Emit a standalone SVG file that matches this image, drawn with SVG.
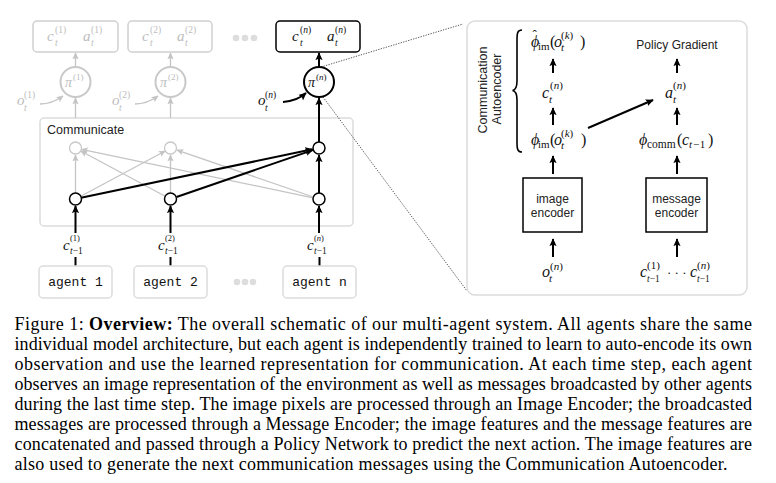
<svg xmlns="http://www.w3.org/2000/svg" width="776" height="483" viewBox="0 0 776 483">
<defs>
<style>
.m{font-family:"Liberation Serif","DejaVu Serif",serif;font-style:italic;font-size:15px}
.s{font-family:"Liberation Serif","DejaVu Serif",serif;font-size:9.5px}
.si{font-family:"Liberation Serif","DejaVu Serif",serif;font-style:italic;font-size:9.5px}
.u{font-family:"Liberation Serif","DejaVu Serif",serif;font-size:15px}
.g{fill:#bdbdbd}
.k{fill:#111}
.sans{font-family:"Liberation Sans",Arial,sans-serif;font-size:12px;fill:#222}
.mono{font-family:"Liberation Mono","DejaVu Sans Mono",monospace;font-size:13px;fill:#111}
.cap{font-family:"Liberation Serif","Times New Roman",serif;font-size:18px;fill:#000}
.gl{stroke:#c4c4c4;stroke-width:1.3;fill:none}
.bl{stroke:#000;stroke-width:2;fill:none}
.dot{stroke:#444;stroke-width:0.9;stroke-dasharray:1.3 1.3;fill:none}
.gbox{fill:#fff;stroke:#d0d0d0;stroke-width:1.5}
.lbox{fill:#fff;stroke:#dcdcdc;stroke-width:1.5}
.R{font-size:16px}
.r1{font-size:11px}
</style>
<marker id="ab" viewBox="0 0 10 10" refX="9" refY="5" markerWidth="8" markerHeight="8" markerUnits="userSpaceOnUse" orient="auto"><path d="M0,0.5 L10,5 L0,9.5 L2,5 z" fill="#000"/></marker>
<marker id="ag" viewBox="0 0 10 10" refX="9" refY="5" markerWidth="7" markerHeight="7" markerUnits="userSpaceOnUse" orient="auto"><path d="M0,0.5 L10,5 L0,9.5 L2,5 z" fill="#c4c4c4"/></marker>
</defs>
<rect width="776" height="483" fill="#fff"/>

<g id="communicate">
<rect x="40" y="118" width="313" height="108" rx="4" class="lbox"/>
<text x="47" y="134" class="sans" style="font-size:12.5px">Communicate</text>
</g>

<g id="connectors">
<line x1="75.5" y1="67" x2="75.5" y2="53" class="gl" marker-end="url(#ag)"/>
<line x1="170.5" y1="67" x2="170.5" y2="53" class="gl" marker-end="url(#ag)"/>
<line x1="75.5" y1="118" x2="75.5" y2="98" class="gl" marker-end="url(#ag)"/>
<line x1="170.5" y1="118" x2="170.5" y2="98" class="gl" marker-end="url(#ag)"/>
<path d="M40,104 Q52,104 63,96" class="gl" marker-end="url(#ag)"/>
<path d="M135,104 Q147,104 158,96" class="gl" marker-end="url(#ag)"/>
<line x1="75.5" y1="193" x2="75.5" y2="155" class="gl" marker-end="url(#ag)"/>
<line x1="170.5" y1="193" x2="170.5" y2="155" class="gl" marker-end="url(#ag)"/>
<line x1="80.8" y1="196.2" x2="165.2" y2="151" class="gl" marker-end="url(#ag)"/>
<line x1="165.2" y1="196.2" x2="80.8" y2="151" class="gl" marker-end="url(#ag)"/>
<line x1="313.1" y1="197.8" x2="81.5" y2="149.3" class="gl" marker-end="url(#ag)"/>
<line x1="313.3" y1="197" x2="177" y2="150.1" class="gl" marker-end="url(#ag)"/>
<line x1="81" y1="197.8" x2="312.5" y2="149.3" class="bl" marker-end="url(#ab)"/>
<line x1="176.5" y1="197" x2="312.7" y2="150.1" class="bl" marker-end="url(#ab)"/>
<line x1="319" y1="193" x2="319" y2="155" class="bl" marker-end="url(#ab)"/>
<line x1="319" y1="142" x2="319" y2="98" class="bl" marker-end="url(#ab)"/>
<line x1="319" y1="67" x2="319" y2="53" class="bl" marker-end="url(#ab)"/>
<path d="M283,102 Q297,101 306,93" class="bl" marker-end="url(#ab)"/>
<line x1="75.5" y1="266" x2="75.5" y2="257" class="bl"/>
<line x1="170.5" y1="266" x2="170.5" y2="257" class="bl"/>
<line x1="319.5" y1="266" x2="319.5" y2="257" class="bl"/>
<line x1="75.5" y1="233" x2="75.5" y2="206" class="bl" marker-end="url(#ab)"/>
<line x1="170.5" y1="233" x2="170.5" y2="206" class="bl" marker-end="url(#ab)"/>
<line x1="319" y1="233" x2="319" y2="206" class="bl" marker-end="url(#ab)"/>
<line x1="321" y1="67" x2="463" y2="24" class="dot"/>
<line x1="323" y1="97" x2="467" y2="291" class="dot"/>
<line x1="553" y1="73" x2="553" y2="59" class="bl" marker-end="url(#ab)"/>
<line x1="553" y1="125" x2="553" y2="108" class="bl" marker-end="url(#ab)"/>
<line x1="553" y1="174" x2="553" y2="156" class="bl" marker-end="url(#ab)"/>
<line x1="553" y1="257" x2="553" y2="239" class="bl" marker-end="url(#ab)"/>
<line x1="677" y1="73" x2="677" y2="59" class="bl" marker-end="url(#ab)"/>
<line x1="677" y1="125" x2="677" y2="108" class="bl" marker-end="url(#ab)"/>
<line x1="677" y1="174" x2="677" y2="156" class="bl" marker-end="url(#ab)"/>
<line x1="677" y1="257" x2="677" y2="239" class="bl" marker-end="url(#ab)"/>
<line x1="588" y1="128" x2="653" y2="100" class="bl" marker-end="url(#ab)"/>
</g>

<g id="comm-nodes">
<circle cx="75.5" cy="148" r="6" fill="#fff" stroke="#c8c8c8" stroke-width="1.3"/>
<circle cx="170.5" cy="148" r="6" fill="#fff" stroke="#c8c8c8" stroke-width="1.3"/>
<circle cx="319" cy="148" r="6" fill="#fff" stroke="#000" stroke-width="1.5"/>
<circle cx="75.5" cy="199" r="6" fill="#fff" stroke="#000" stroke-width="1.5"/>
<circle cx="170.5" cy="199" r="6" fill="#fff" stroke="#000" stroke-width="1.5"/>
<circle cx="319" cy="199" r="6" fill="#fff" stroke="#000" stroke-width="1.5"/>
</g>

<g id="out1">
<rect x="33" y="21" width="85" height="31" rx="4" class="gbox"/>
<text x="47" y="41" class="m g">c</text><text x="55" y="33" class="s g">(1)</text><text x="55" y="46" class="si g">t</text>
<text x="83" y="41" class="m g">a</text><text x="91" y="33" class="s g">(1)</text><text x="91" y="46" class="si g">t</text>
</g>
<g id="out2">
<rect x="128" y="21" width="84" height="31" rx="4" class="gbox"/>
<text x="142" y="41" class="m g">c</text><text x="150" y="33" class="s g">(2)</text><text x="150" y="46" class="si g">t</text>
<text x="177" y="41" class="m g">a</text><text x="185" y="33" class="s g">(2)</text><text x="185" y="46" class="si g">t</text>
</g>
<g id="out-dots" fill="#ddd">
<circle cx="236" cy="38" r="3.3"/><circle cx="245" cy="38" r="3.3"/><circle cx="254" cy="38" r="3.3"/>
</g>
<g id="outn">
<rect x="276" y="21" width="84" height="31" rx="4" fill="#fff" stroke="#000" stroke-width="1.5"/>
<text x="292" y="41" class="m k">c</text><text x="300" y="33" class="s k">(<tspan font-style="italic">n</tspan>)</text><text x="300" y="46" class="si k">t</text>
<text x="327" y="41" class="m k">a</text><text x="335" y="33" class="s k">(<tspan font-style="italic">n</tspan>)</text><text x="335" y="46" class="si k">t</text>
</g>

<g id="pi1">
<circle cx="75.5" cy="82" r="15" fill="#fff" stroke="#c8c8c8" stroke-width="2"/>
<text x="65" y="87" class="m g" style="font-size:14px">π</text><text x="73" y="80" class="s g" style="font-size:9px">(1)</text>
</g>
<g id="pi2">
<circle cx="170.5" cy="82" r="15" fill="#fff" stroke="#c8c8c8" stroke-width="2"/>
<text x="160" y="87" class="m g" style="font-size:14px">π</text><text x="168" y="80" class="s g" style="font-size:9px">(2)</text>
</g>
<g id="pin">
<circle cx="319" cy="82" r="15" fill="#fff" stroke="#000" stroke-width="2"/>
<text x="308" y="87" class="m k" style="font-size:14px">π</text><text x="316" y="80" class="s k" style="font-size:9px">(<tspan font-style="italic">n</tspan>)</text>
</g>

<g id="o1"><text x="17" y="105" class="m g">o</text><text x="24" y="98" class="s g">(1)</text><text x="24" y="111" class="si g">t</text></g>
<g id="o2"><text x="112" y="105" class="m g">o</text><text x="119" y="98" class="s g">(2)</text><text x="119" y="111" class="si g">t</text></g>
<g id="on"><text x="258" y="105" class="m k">o</text><text x="265" y="98" class="s k">(<tspan font-style="italic">n</tspan>)</text><text x="265" y="111" class="si k">t</text></g>

<g id="c1"><text x="63" y="250" class="m k">c</text><text x="70" y="241" class="s k" style="font-size:8.5px">(1)</text><text x="70" y="254" class="si k">t<tspan font-style="normal">−1</tspan></text></g>
<g id="c2"><text x="158" y="250" class="m k">c</text><text x="165" y="241" class="s k" style="font-size:8.5px">(2)</text><text x="165" y="254" class="si k">t<tspan font-style="normal">−1</tspan></text></g>
<g id="cn"><text x="307" y="250" class="m k">c</text><text x="314" y="241" class="s k" style="font-size:8.5px">(<tspan font-style="italic">n</tspan>)</text><text x="314" y="254" class="si k">t<tspan font-style="normal">−1</tspan></text></g>

<g id="agent1"><rect x="39" y="266" width="73" height="32" rx="4" class="lbox"/><text x="75.5" y="286" class="mono" text-anchor="middle">agent 1</text></g>
<g id="agent2"><rect x="134" y="266" width="73" height="32" rx="4" class="lbox"/><text x="170.5" y="286" class="mono" text-anchor="middle">agent 2</text></g>
<g id="agent-dots" fill="#ddd"><circle cx="237" cy="282" r="3.3"/><circle cx="245" cy="282" r="3.3"/><circle cx="253" cy="282" r="3.3"/></g>
<g id="agentn"><rect x="283" y="266" width="73" height="32" rx="4" class="lbox"/><text x="319.5" y="286" class="mono" text-anchor="middle">agent n</text></g>

<g id="panel">
<rect x="467" y="21" width="280" height="274" rx="8" fill="none" stroke="#dcdcdc" stroke-width="1.5"/>
<text transform="translate(487,90) rotate(-90)" class="sans" text-anchor="middle" style="font-size:12.5px">Communication</text>
<text transform="translate(501,89) rotate(-90)" class="sans" text-anchor="middle" style="font-size:12.5px">Autoencoder</text>
<path d="M522,30 C517.5,30 517,33 517,40 L517,81 C517,87 516,90 512.5,90.5 C516,91 517,94 517,100 L517,142 C517,149 517.5,152 522,152" fill="none" stroke="#000" stroke-width="1.6"/>
</g>
<g id="phihat">
<text x="531" y="47" class="m k R">ϕ</text>
<text x="532.5" y="39" class="u k" style="font-size:13px">ˆ</text>
<text x="538" y="50" class="s k r1">im</text>
<text x="550" y="47" class="u k R">(</text><text x="554" y="47" class="m k R">o</text>
<text x="561" y="39" class="s k r1">(<tspan font-style="italic">k</tspan>)</text><text x="561" y="51" class="si k r1">t</text>
<text x="580" y="47" class="u k R">)</text>
</g>
<g id="ct"><text x="542" y="98" class="m k R">c</text><text x="550" y="89" class="s k r1">(<tspan font-style="italic">n</tspan>)</text><text x="549" y="103" class="si k r1">t</text></g>
<g id="phiim">
<text x="531" y="145" class="m k R">ϕ</text>
<text x="538" y="148" class="s k r1">im</text>
<text x="550" y="145" class="u k R">(</text><text x="554" y="145" class="m k R">o</text>
<text x="561" y="137" class="s k r1">(<tspan font-style="italic">k</tspan>)</text><text x="561" y="149" class="si k r1">t</text>
<text x="581" y="145" class="u k R">)</text>
</g>
<g id="policy"><text x="677" y="49" class="sans" text-anchor="middle">Policy Gradient</text></g>
<g id="at"><text x="665" y="98" class="m k R">a</text><text x="673" y="89" class="s k r1">(<tspan font-style="italic">n</tspan>)</text><text x="673" y="103" class="si k r1">t</text></g>
<g id="phicomm">
<text x="639" y="145" class="m k R">ϕ</text>
<text x="647" y="148" class="s k" style="font-size:11.5px">comm</text>
<text x="677" y="145" class="u k R">(</text><text x="682" y="145" class="m k R">c</text>
<text x="689" y="148" class="si k r1">t<tspan font-style="normal" dx="1">−</tspan><tspan font-style="normal" dx="0.5">1</tspan></text>
<text x="708" y="145" class="u k R">)</text>
</g>
<g id="image-encoder">
<rect x="523" y="178" width="59" height="54" fill="#fff" stroke="#000" stroke-width="1.5"/>
<text x="552.5" y="203" class="sans" text-anchor="middle">image</text>
<text x="552.5" y="217" class="sans" text-anchor="middle">encoder</text>
</g>
<g id="message-encoder">
<rect x="646" y="178" width="61" height="54" fill="#fff" stroke="#000" stroke-width="1.5"/>
<text x="676.5" y="203" class="sans" text-anchor="middle">message</text>
<text x="676.5" y="217" class="sans" text-anchor="middle">encoder</text>
</g>
<g id="obs-in"><text x="542" y="277" class="m k R">o</text><text x="550" y="270" class="s k r1">(<tspan font-style="italic">n</tspan>)</text><text x="549" y="282" class="si k r1">t</text></g>
<g id="msg-in">
<text x="640" y="277" class="m k R">c</text><text x="647" y="269" class="s k r1">(1)</text><text x="647" y="282" class="si k">t<tspan font-style="normal">−1</tspan></text>
<text x="667" y="277" class="u k" style="font-size:13px">· · ·</text>
<text x="690" y="277" class="m k R">c</text><text x="697" y="269" class="s k r1">(<tspan font-style="italic">n</tspan>)</text><text x="697" y="282" class="si k">t<tspan font-style="normal">−1</tspan></text>
</g>

<g id="caption" class="cap">
<text x="14.5" y="330" textLength="737.5" lengthAdjust="spacing">Figure 1: <tspan font-weight="bold">Overview:</tspan> The overall schematic of our multi-agent system. All agents share the same</text>
<text x="14.5" y="350" textLength="737.5" lengthAdjust="spacing">individual model architecture, but each agent is independently trained to learn to auto-encode its own</text>
<text x="14.5" y="370" textLength="737.5" lengthAdjust="spacing">observation and use the learned representation for communication. At each time step, each agent</text>
<text x="14.5" y="390" textLength="737.5" lengthAdjust="spacing">observes an image representation of the environment as well as messages broadcasted by other agents</text>
<text x="14.5" y="410" textLength="737.5" lengthAdjust="spacing">during the last time step. The image pixels are processed through an Image Encoder; the broadcasted</text>
<text x="14.5" y="430" textLength="737.5" lengthAdjust="spacing">messages are processed through a Message Encoder; the image features and the message features are</text>
<text x="14.5" y="450" textLength="737.5" lengthAdjust="spacing">concatenated and passed through a Policy Network to predict the next action. The image features are</text>
<text x="14.5" y="470" textLength="713" lengthAdjust="spacing">also used to generate the next communication messages using the Communication Autoencoder.</text>
</g>
</svg>
